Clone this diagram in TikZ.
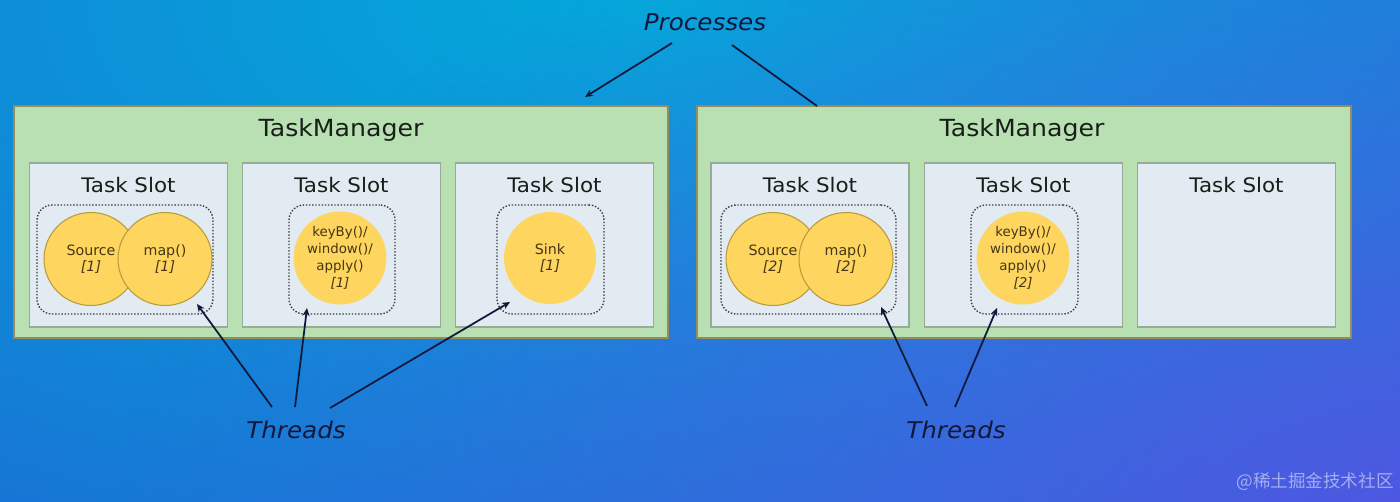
\documentclass[tikz,border=0pt]{standalone}
\usepackage{fontspec}
\usepackage{graphicx}
\setmainfont{DejaVu Sans}
\newfontfamily\cjk{Noto Sans CJK SC}
\usetikzlibrary{shapes.geometric,arrows.meta,fadings,calc}
\definecolor{bgcyan}{RGB}{2,170,218}
\definecolor{bgbase}{RGB}{28,106,212}
\definecolor{bgpurp}{RGB}{98,78,230}
\definecolor{tmfill}{RGB}{184,224,178}
\definecolor{tmdraw}{RGB}{150,140,90}
\definecolor{slotfill}{RGB}{226,234,242}
\definecolor{slotdraw}{RGB}{150,172,150}
\definecolor{opfill}{RGB}{253,213,95}
\definecolor{opdraw}{RGB}{185,155,60}
\definecolor{optext}{RGB}{70,55,20}
\definecolor{dboxc}{RGB}{60,60,65}
\definecolor{navy}{RGB}{18,24,60}
\definecolor{titletext}{RGB}{25,30,25}
\tikzfading[name=myfadeout, inner color=transparent!0, outer color=transparent!100]
\newcommand\wx[1]{\scalebox{1.07}[1]{#1}}
\tikzset{
  tmbox/.style={draw=tmdraw, fill=tmfill, line width=0.7pt, minimum width=13.08cm, minimum height=4.64cm, inner sep=0pt},
  slotbox/.style={draw=slotdraw, fill=slotfill, line width=0.9pt, minimum width=3.96cm, minimum height=3.28cm, inner sep=0pt},
  dbox/.style={draw=dboxc, densely dotted, line width=0.8pt, rounded corners=0.3cm, minimum height=2.18cm, inner sep=0pt},
  opell/.style={ellipse, fill=opfill, minimum width=1.88cm, minimum height=1.86cm, inner sep=0pt, align=center, text=optext, font=\fontsize{8.1}{10.2}\selectfont},
  opline/.style={draw=opdraw, line width=0.6pt},
  title/.style={text=titletext, inner sep=0pt},
  lab/.style={text=navy, inner sep=0pt, font=\fontsize{13.1}{15}\selectfont\itshape},
  arr/.style={draw=navy, line width=1pt, -{Stealth[length=4.5pt, width=4pt]}},
  plain/.style={draw=navy, line width=1pt}
}
\begin{document}
\begin{tikzpicture}[x=0.02cm, y=-0.02cm]
\useasboundingbox (0,0) rectangle (1400,501);
% background
\begin{scope}
\clip (0,0) rectangle (1400,501);
\fill[bgbase] (0,0) rectangle (1400,501);
\shade[inner color=bgcyan, outer color=bgbase] (660,0) ellipse (1500 and 720);
\fill[bgpurp, path fading=myfadeout, fill opacity=0.75] (1420,520) ellipse (1300 and 700);
\end{scope}

% task managers
\node[tmbox] (tmL) at (341,222) {};
\node[tmbox] (tmR) at (1024,222) {};
\node[title, font=\fontsize{13.4}{15}\selectfont] (tmLt) at (341,130) {\wx{TaskManager}};
\node[title, font=\fontsize{13.4}{15}\selectfont] (tmRt) at (1022,130) {\wx{TaskManager}};

% slots
\foreach \n/\x in {s1/128.5, s2/341.5, s3/554.5, s4/810, s5/1023.5, s6/1236.5}{
  \node[slotbox] (\n) at (\x,245) {};
  \node[title, font=\fontsize{11.4}{13}\selectfont] (\n t) at (\x,185) {\wx{Task Slot}};
}

% dashed thread boxes
\node[dbox, minimum width=3.52cm] (d1) at (125,259.5) {};
\node[dbox, minimum width=2.12cm] (d2) at (342,259.5) {};
\node[dbox, minimum width=2.14cm] (d3) at (550.5,259.5) {};
\node[dbox, minimum width=3.50cm] (d4) at (808.5,259.5) {};
\node[dbox, minimum width=2.14cm] (d5) at (1024.5,259.5) {};

% operators
\node[opell, opline] (src1) at (91,259) {Source\\[-1pt]\textit{[1]}};
\node[opell, opline] (map1) at (165,259) {map()\\[-1pt]\textit{[1]}};
\node[opell, minimum width=1.80cm, font=\fontsize{7.6}{9.6}\selectfont] (kb1) at (340,258) {keyBy()/\\window()/\\apply()\\\textit{[1]}};
\node[opell, minimum width=1.84cm, minimum height=1.84cm] (sink1) at (550,258) {Sink\\[-1pt]\textit{[1]}};

\node[opell, opline] (src2) at (773,259) {Source\\[-1pt]\textit{[2]}};
\node[opell, opline] (map2) at (846,259) {map()\\[-1pt]\textit{[2]}};
\node[opell, minimum width=1.80cm, font=\fontsize{7.6}{9.6}\selectfont] (kb2) at (1023,258) {keyBy()/\\window()/\\apply()\\\textit{[2]}};

% labels
\node[lab] (proc) at (705,22) {\wx{Processes}};
\node[lab] (thL) at (296,430) {\wx{Threads}};
\node[lab] (thR) at (956,430) {\wx{Threads}};

% endpoints
\coordinate (pa) at (672,43);
\coordinate (pb) at (732,45);
\coordinate (pe1) at (585,97);
\coordinate (pe2) at (817,106);
\coordinate (t1a) at (272,407);
\coordinate (t1b) at (295,407);
\coordinate (t1c) at (330,408);
\coordinate (t1e) at (197,304);
\coordinate (t2e) at (307,308);
\coordinate (t3e) at (510,302);
\coordinate (t4a) at (927,406);
\coordinate (t4b) at (955,407);
\coordinate (t4e) at (881,307);
\coordinate (t5e) at (997,308);

\draw[arr] (pa) -- (pe1);
\draw[plain] (pb) -- (pe2);
\draw[arr] (t1a) -- (t1e);
\draw[arr] (t1b) -- (t2e);
\draw[arr] (t1c) -- (t3e);
\draw[arr] (t4a) -- (t4e);
\draw[arr] (t4b) -- (t5e);

% watermark
\node[anchor=east, text=white, text opacity=0.5, inner sep=0pt, font=\cjk\fontsize{10}{12}\selectfont] (wm) at (1394,482) {@稀土掘金技术社区};
\end{tikzpicture}
\end{document}
